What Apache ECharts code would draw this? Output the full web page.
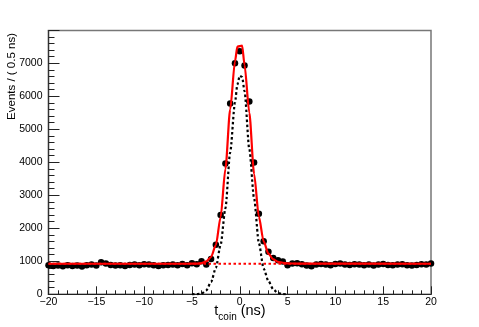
<!DOCTYPE html>
<html>
<head>
<meta charset="utf-8">
<script src="https://cdn.jsdelivr.net/npm/echarts@6/dist/echarts.min.js"></script>
<style>
html,body{margin:0;padding:0;background:#fff;}
#c{width:479px;height:327px;}
</style>
</head>
<body>
<div id="c"></div>
<script>
// Bin centres (ns) and event counts per 0.5 ns
const binX = [-20,-19.5,-19,-18.5,-18,-17.5,-17,-16.5,-16,-15.5,-15,-14.5,-14,-13.5,-13,-12.5,-12,-11.5,-11,-10.5,-10,-9.5,-9,-8.5,-8,-7.5,-7,-6.5,-6,-5.5,-5,-4.5,-4,-3.5,-3,-2.5,-2,-1.5,-1,-0.5,0,0.5,1,1.5,2,2.5,3,3.5,4,4.5,5,5.5,6,6.5,7,7.5,8,8.5,9,9.5,10,10.5,11,11.5,12,12.5,13,13.5,14,14.5,15,15.5,16,16.5,17,17.5,18,18.5,19,19.5,20];
const counts = [880,860,870,850,880,860,870,840,880,900,870,970,930,890,870,880,860,890,900,880,910,900,880,860,880,890,900,880,920,880,940,910,1000,905,1070,1500,2400,3960,5780,7000,7360,6930,5840,3990,2440,1610,1290,1100,1030,990,880,930,940,910,870,850,900,920,900,880,920,930,900,890,910,900,880,900,870,900,920,890,880,900,910,880,870,890,910,900,930];

// Total fit curve (red)
const fitX = [-20,-6,-5,-4.5,-4,-3.5,-3,-2.5,-2,-1.5,-1,-0.5,-0.25,0.25,0.5,1,1.5,2,2.5,3,3.5,4,4.5,5,6,20];
const fitY = [925,925,927,932,945,995,1130,1490,2340,3800,5600,7050,7500,7530,6950,5500,3650,2350,1600,1230,1060,985,955,938,928,925];

// Background level (red dotted)
const bkgX = [-20,20];
const bkgY = [925,925];

// Signal component (black dotted)
const sigX = [-5,-4.5,-4,-3.5,-3,-2.5,-2,-1.5,-1,-0.5,-0.25,0,0.25,0.5,1,1.5,2,2.5,3,3.5,4,4.5,5];
const sigY = [0,5,20,120,370,800,1500,2600,4300,5800,6350,6620,6580,6150,4400,2900,1550,780,400,150,40,5,0];

const yTicks = [0,1000,2000,3000,4000,5000,6000,7000];

const pair = (xa, ya) => xa.map((x,i)=>[x, ya[i]]);
const FONT = 'Liberation Sans';

const chart = echarts.init(document.getElementById('c'), null, {renderer:'canvas'});
chart.setOption({
  animation:false,
  backgroundColor:'#ffffff',
  grid:{left:48.5, right:48, top:30.5, bottom:32.7, show:true, borderColor:'#777', borderWidth:1.5, backgroundColor:'transparent'},
  xAxis:{
    type:'value', min:-20, max:20, interval:5,
    axisLine:{show:true, onZero:false, lineStyle:{color:'#222', width:1.2}},
    axisTick:{show:true, inside:true, length:8, lineStyle:{color:'#222'}},
    minorTick:{show:true, splitNumber:5, length:4, lineStyle:{color:'#222'}},
    splitLine:{show:false},
    axisLabel:{margin:2, fontFamily:FONT, fontSize:10.5, color:'#000',
      formatter:v=>String(v).replace('-','\u2212')}
  },
  yAxis:{
    type:'value', min:0, max:7990, interval:1000,
    axisLine:{show:true, onZero:false, lineStyle:{color:'#333', width:1.2}},
    axisTick:{show:true, inside:true, length:11, lineStyle:{color:'#222'}},
    minorTick:{show:true, splitNumber:5, length:6, lineStyle:{color:'#222'}},
    splitLine:{show:false},
    axisLabel:{margin:6, fontFamily:FONT, fontSize:10.5, color:'#000', showMaxLabel:false,
      formatter:v=> yTicks.indexOf(v)>=0 ? String(v) : ''}
  },
  series:[
    {type:'scatter', data:pair(binX,counts), symbol:'circle', symbolSize:6.5,
     itemStyle:{color:'#000', opacity:1}, z:2},
    {type:'line', data:pair(fitX,fitY), symbol:'none', smooth:0.25, smoothMonotone:'x',
     lineStyle:{color:'#ff0000', width:2.2}, z:3},
    {type:'line', data:pair(bkgX,bkgY), symbol:'none',
     lineStyle:{color:'#ff0000', width:2, type:[2.5,2.5]}, z:4},
    {type:'line', data:pair(sigX,sigY), symbol:'none', smooth:0.25, smoothMonotone:'x',
     lineStyle:{color:'#000', width:2.2, type:[2.5,2.5]}, z:5}
  ],
  graphic:[
    {type:'text', x:12, y:33, rotation:Math.PI/2,
     style:{text:'Events / ( 0.5 ns)', fontFamily:FONT, fontSize:11.5, fill:'#000', align:'right', verticalAlign:'middle'}},
    {type:'text', x:240, y:318,
     style:{text:'{a|t}{b|coin}{a| (ns)}', align:'center', verticalAlign:'bottom',
       rich:{a:{fontFamily:FONT, fontSize:14.5, fill:'#000', verticalAlign:'bottom'},
             b:{fontFamily:FONT, fontSize:10, fill:'#000', verticalAlign:'bottom', padding:[0,0,-4,0]}}}}
  ]
});
</script>
</body>
</html>
